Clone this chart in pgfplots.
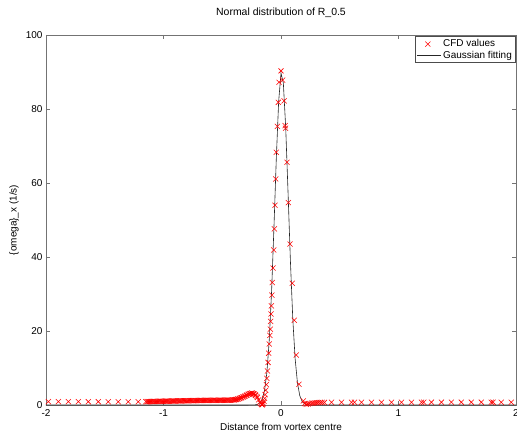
\documentclass[border=0pt]{standalone}
\usepackage{pgfplots}
\pgfplotsset{compat=1.18}
\usepackage{fontspec}
\setmainfont{Liberation Sans}
\pgfplotsset{
  legx/.style={legend image code/.code={\draw[mark repeat=2,mark phase=2,##1] plot coordinates {(0bp,0bp) (11bp,0bp) (24bp,0bp)};}},
  legl/.style={legend image code/.code={\draw[##1] (0bp,0bp) -- (24bp,0bp);}},
}
\begin{document}
\begin{tikzpicture}
\begin{axis}[
  name=ax, scale only axis, width=470bp, height=370bp,
  xmin=-2, xmax=2, ymin=0, ymax=100,
  xtick={-2,-1,0,1,2}, ytick={0,20,40,60,80,100},
  tick align=inside, major tick length=4bp,
  axis line style={black!55}, tick style={black!55, line width=0.6bp},
  every tick label/.append style={font=\fontsize{10}{12}\selectfont, text=black},
  /pgf/number format/assume math mode=true,
  xticklabel style={yshift=-1bp},
  title={Normal distribution of R\_0.5},
  title style={font=\fontsize{10.5}{12}\selectfont, at={(axis description cs:0.5,1)}, anchor=base, yshift=14bp},
  xlabel={Distance from vortex centre},
  xlabel style={font=\fontsize{10}{12}\selectfont, at={(axis description cs:0.5,0)}, anchor=north, yshift=-15bp},
  ylabel={\{omega\}\_x (1/s)},
  ylabel style={font=\fontsize{10}{12}\selectfont, at={(axis description cs:-0.068,0.5)}, anchor=center},
  legend style={at={(1,1)}, anchor=north east, xshift=-1bp, yshift=-1.5bp, draw=black!70, font=\fontsize{10}{12}\selectfont, inner sep=1bp, row sep=-1.5bp},
  legend cell align=left,
]
\addplot[only marks, mark=x, mark size=3.6bp, red, line width=0.55bp, legx] coordinates {
(-1.98,0.9) (-1.895,0.9) (-1.81,0.9) (-1.725,0.9) (-1.64,0.9) (-1.555,0.9) (-1.47,0.9) (-1.385,0.9) (-1.30,0.9) (-1.215,0.9)
(-1.15,0.9) (-1.14,0.91) (-1.13,0.92) (-1.12,0.92) (-1.11,0.93) (-1.10,0.94) (-1.09,0.95) (-1.08,0.95) (-1.07,0.96) (-1.06,0.97)
(-1.05,0.98) (-1.04,0.99) (-1.03,1.0) (-1.02,1.0) (-1.01,1.0) (-1.0,1.01) (-0.99,1.02) (-0.98,1.02) (-0.97,1.03) (-0.96,1.04)
(-0.95,1.05) (-0.94,1.05) (-0.93,1.06) (-0.92,1.07) (-0.91,1.08) (-0.90,1.09) (-0.89,1.1) (-0.88,1.1) (-0.87,1.1) (-0.86,1.11)
(-0.85,1.12) (-0.84,1.12) (-0.83,1.13) (-0.82,1.14) (-0.81,1.15) (-0.80,1.15) (-0.79,1.16) (-0.78,1.17) (-0.77,1.18) (-0.76,1.18)
(-0.75,1.19) (-0.74,1.19) (-0.73,1.2) (-0.72,1.2) (-0.71,1.2) (-0.70,1.21) (-0.69,1.22) (-0.68,1.22) (-0.67,1.23) (-0.66,1.23)
(-0.65,1.24) (-0.64,1.24) (-0.63,1.25) (-0.62,1.25) (-0.61,1.25) (-0.60,1.26) (-0.59,1.26) (-0.58,1.26) (-0.57,1.27) (-0.56,1.27)
(-0.55,1.27) (-0.54,1.27) (-0.53,1.28) (-0.52,1.28) (-0.51,1.28) (-0.50,1.28) (-0.49,1.29) (-0.48,1.29) (-0.47,1.3) (-0.46,1.3)
(-0.45,1.3) (-0.44,1.31) (-0.43,1.32) (-0.42,1.33) (-0.41,1.35) (-0.40,1.37) (-0.395,1.4) (-0.385,1.45) (-0.38,1.5) (-0.37,1.6)
(-0.365,1.65) (-0.355,1.75) (-0.35,1.8) (-0.34,1.95) (-0.335,2.0) (-0.325,2.15) (-0.32,2.2) (-0.31,2.35) (-0.305,2.45) (-0.295,2.6)
(-0.29,2.7) (-0.28,2.85) (-0.275,2.9) (-0.265,3.05) (-0.26,3.1) (-0.25,3.2) (-0.245,3.2) (-0.235,3.1) (-0.23,3.0) (-0.22,2.8)
(-0.215,2.6) (-0.205,2.25) (-0.20,2.0) (-0.19,1.4) (-0.18,0.8) (-0.172,0.4) (-0.165,0.15) (-0.16,0.05) (-0.155,0.2) (-0.15,0.5) (-0.145,1.0)
(-0.14,1.8) (-0.135,2.8) (-0.13,4.0) (-0.125,5.5) (-0.12,7.2) (-0.115,9.2) (-0.11,11.5) (-0.105,14.0) (-0.10,16.5) (-0.095,18.8)
(-0.091,20.5) (-0.088,22.6) (-0.085,24.6) (-0.082,26.8) (-0.077,29.7) (-0.074,33.1) (-0.068,37.0) (-0.062,41.9) (-0.057,47.6) (-0.051,54.0)
(-0.045,61.1) (-0.040,68.3) (-0.031,75.3) (-0.023,81.8) (-0.017,87.2) (0.0,90.3) (0.014,87.8) (0.026,82.2) (0.035,75.5) (0.039,74.8)
(0.051,65.6) (0.062,54.7) (0.077,43.5) (0.096,32.9) (0.113,22.9) (0.130,13.5) (0.153,5.6) (0.19,1.1) (0.20,0.4) (0.215,0.2)
(0.23,0.3) (0.245,0.4) (0.26,0.5) (0.275,0.55) (0.29,0.6) (0.305,0.6) (0.32,0.65) (0.335,0.7) (0.35,0.7) (0.37,0.7)
(0.43,0.75) (0.515,0.75) (0.60,0.75) (0.625,0.75) (0.685,0.75) (0.77,0.75) (0.855,0.75) (0.94,0.75) (1.025,0.75) (1.11,0.75)
(1.195,0.75) (1.215,0.75) (1.28,0.75) (1.365,0.75) (1.45,0.75) (1.535,0.75) (1.62,0.75) (1.705,0.75) (1.79,0.75) (1.805,0.75)
(1.875,0.75) (1.96,0.75)
};
\addlegendentry{CFD values}
\addplot[black!85, line width=0.6bp, legl] coordinates {
(-2,0) (-0.3,0) (-0.22,0.05) (-0.2,0.17) (-0.18,0.56) (-0.16,1.57) (-0.14,3.95) (-0.12,8.83) (-0.10,17.5) (-0.08,30.8)
(-0.06,48.0) (-0.04,66.6) (-0.02,82.0) (0,89.7) (0.02,87.0) (0.04,75.0) (0.06,57.4) (0.08,39.0) (0.10,23.5)
(0.12,12.6) (0.14,6.0) (0.16,2.5) (0.18,0.95) (0.2,0.32) (0.22,0.09) (0.26,0) (2,0)
};
\addlegendentry{Gaussian fitting}
\end{axis}
\pgfresetboundingbox
\path[use as bounding box] ([xshift=-46bp,yshift=-26bp]ax.south west) rectangle ([xshift=1bp,yshift=35bp]ax.north east);
\end{tikzpicture}
\end{document}
